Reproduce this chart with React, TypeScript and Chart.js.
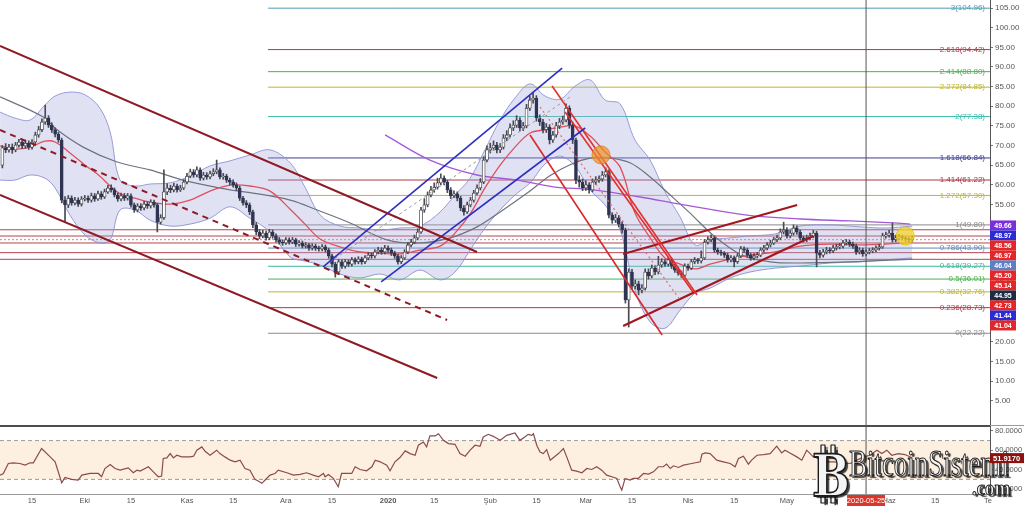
import React, { useEffect, useRef } from 'react';
import { Chart, registerables } from 'chart.js';
Chart.register(...registerables);

const FONT = "'Liberation Sans', Arial, sans-serif";

// ---- axes (days counted from 2019-09-01) ----
const X_MIN = 4.28;
const X_MAX = 304.6;
const PRICE_MIN = -1.13;
const PRICE_MAX = 107.04;
const RSI_MIN = 14.9;
const RSI_MAX = 86.1;

const yTicks = [5, 10, 15, 20, 25, 30, 35, 40, 45, 50, 55, 60, 65, 70, 75, 80, 85, 90, 95, 100, 105];
const rsiTicks = [20, 40, 60, 80];
const xTickDays = [14, 30, 44, 61, 75, 91, 105, 122, 136, 153, 167, 182, 196, 213, 227, 243, 257, 274, 288, 304];
const xTickLabels = ['15', 'Eki', '15', 'Kas', '15', 'Ara', '15', '2020', '15', 'Şub', '15', 'Mar', '15', 'Nis', '15', 'May', '15', 'Haz', '15', 'Te'];

// ---- daily candles ----
const firstDay = 5;
const firstOpen = 65.0;
const closes = [
  69.4, 68.9, 69.6, 68.9, 70.1, 70.9, 69.9, 70.6, 69.6, 70.9,
  72.7, 74.0, 76.0, 77.0, 75.2, 74.0, 72.9, 71.4, 56.1, 54.9,
  56.6, 55.4, 56.1, 55.1, 56.4, 56.6, 56.1, 57.2, 56.4, 57.7,
  56.9, 58.2, 59.2, 58.7, 57.4, 56.4, 57.2, 56.6, 57.2, 54.9,
  53.6, 54.6, 54.1, 55.1, 54.6, 55.6, 54.9, 50.5, 51.6, 58.2,
  59.2, 58.7, 59.7, 58.7, 59.2, 60.7, 62.2, 63.3, 62.5, 63.8,
  61.7, 62.5, 62.0, 62.8, 63.3, 63.8, 62.0, 62.2, 61.2, 60.7,
  60.0, 59.2, 56.6, 55.4, 54.9, 53.1, 49.8, 48.0, 47.0, 47.7,
  46.5, 48.0, 47.0, 46.0, 45.4, 45.2, 46.0, 45.4, 46.0, 44.9,
  45.2, 44.4, 44.7, 43.9, 44.4, 43.9, 43.7, 44.2, 43.4, 41.9,
  39.8, 37.8, 40.4, 39.3, 40.4, 39.8, 40.9, 40.4, 41.1, 40.4,
  41.4, 42.1, 41.9, 42.9, 43.4, 42.9, 43.9, 43.4, 42.6, 41.9,
  40.4, 41.4, 42.9, 44.7, 45.4, 46.5, 48.0, 53.6, 54.9, 57.4,
  58.7, 59.4, 60.5, 61.7, 60.7, 58.7, 57.2, 57.7, 56.6, 54.1,
  53.1, 54.9, 56.1, 57.9, 59.2, 60.7, 66.3, 68.9, 69.4, 70.1,
  68.9, 69.6, 71.9, 72.7, 74.5, 75.2, 76.5, 74.5, 75.0, 79.5,
  81.6, 82.1, 77.0, 76.0, 74.0, 74.7, 71.4, 72.7, 75.0, 76.0,
  76.5, 79.5, 75.2, 71.4, 61.2, 60.7, 59.2, 60.0, 58.7, 60.7,
  61.2, 61.5, 62.5, 63.3, 52.3, 51.0, 51.6, 50.0, 48.5, 30.7,
  37.8, 34.2, 34.8, 33.2, 33.7, 37.8, 36.8, 38.8, 37.8, 39.6,
  40.4, 39.8, 40.9, 39.3, 38.3, 37.6, 37.0, 39.3, 38.8, 40.4,
  40.9, 40.6, 41.4, 45.4, 46.0, 46.5, 43.4, 42.9, 42.6, 42.1,
  40.9, 41.4, 40.4, 41.9, 43.7, 43.4, 42.1, 41.4, 41.9, 42.1,
  43.4, 43.9, 44.7, 45.2, 46.0, 46.5, 48.0, 48.5, 47.0, 47.7,
  49.0, 48.0, 46.5, 46.0, 46.5, 47.0, 47.7, 42.6, 42.1, 42.9,
  43.4, 43.2, 43.9, 44.2, 44.4, 45.2, 45.4, 44.9, 44.4, 42.9,
  43.4, 42.4, 42.9, 43.2, 43.4, 43.9, 44.2, 47.0, 47.2, 47.7,
  46.0, 46.5, 46.7, 46.5, 46.2, 46.0, 46.5,
];
const highs = [
  70.0, 70.5, 70.3, 70.4, 70.8, 71.6, 71.5, 71.4, 71.2, 71.5,
  73.4, 74.9, 76.8, 80.3, 77.6, 75.8, 74.5, 73.4, 71.9, 57.0,
  57.3, 57.2, 56.8, 56.7, 57.0, 57.3, 57.2, 57.9, 57.8, 58.4,
  58.3, 58.9, 59.9, 60.0, 59.2, 57.9, 57.9, 57.8, 57.8, 57.7,
  55.4, 55.2, 55.2, 55.8, 55.7, 56.2, 56.1, 55.3, 52.4, 63.8,
  60.3, 59.9, 60.4, 60.2, 59.9, 61.3, 62.9, 64.0, 63.9, 64.6,
  64.3, 63.2, 63.1, 63.5, 64.1, 66.3, 64.3, 62.9, 62.7, 61.7,
  61.3, 60.5, 59.7, 57.1, 56.0, 55.4, 53.6, 50.4, 48.6, 48.4,
  48.2, 48.7, 48.5, 47.5, 46.6, 46.0, 46.6, 46.5, 46.6, 46.4,
  45.8, 45.7, 45.3, 45.1, 45.0, 44.9, 44.4, 44.8, 44.7, 43.9,
  42.4, 40.3, 41.0, 40.9, 41.0, 40.9, 41.5, 41.4, 41.7, 41.6,
  42.0, 42.8, 42.7, 43.5, 44.1, 44.0, 44.6, 44.5, 43.9, 43.1,
  42.3, 42.0, 43.5, 45.3, 46.1, 47.2, 48.8, 54.3, 56.5, 58.2,
  59.6, 60.5, 61.7, 62.8, 62.3, 61.2, 59.3, 58.5, 58.2, 57.1,
  54.7, 55.6, 56.8, 58.6, 60.0, 61.6, 67.2, 69.9, 70.6, 71.2,
  70.8, 70.5, 72.8, 73.8, 75.5, 76.3, 77.6, 77.1, 75.9, 80.5,
  82.6, 83.4, 82.7, 77.8, 76.7, 75.6, 75.3, 73.6, 75.9, 76.9,
  77.5, 80.6, 80.1, 75.8, 71.9, 62.3, 61.5, 61.0, 60.6, 61.5,
  62.1, 62.3, 63.4, 64.3, 63.8, 52.9, 52.5, 52.2, 50.6, 49.0,
  38.6, 38.5, 35.8, 35.5, 34.6, 38.6, 38.6, 39.6, 39.4, 41.8,
  41.2, 41.0, 41.6, 41.4, 39.8, 38.9, 38.1, 39.9, 39.8, 41.0,
  41.5, 41.3, 43.2, 46.1, 46.8, 47.3, 47.0, 43.9, 43.4, 43.0,
  42.6, 42.0, 41.9, 42.5, 44.3, 44.2, 43.9, 42.6, 42.5, 42.8,
  44.0, 44.6, 45.3, 45.9, 46.6, 47.2, 48.8, 50.5, 49.1, 48.4,
  49.8, 49.6, 48.5, 47.0, 47.2, 47.7, 48.4, 48.2, 43.3, 43.6,
  44.1, 44.0, 44.6, 44.9, 45.1, 45.9, 46.1, 45.9, 45.4, 44.9,
  44.0, 43.9, 43.5, 43.8, 44.0, 44.5, 44.9, 47.7, 48.0, 48.4,
  50.3, 47.2, 47.4, 47.2, 46.9, 46.7, 47.1,
];
const lows = [
  64.3, 68.2, 68.3, 68.0, 68.4, 69.6, 69.2, 69.3, 69.0, 69.1,
  70.5, 72.1, 73.5, 75.4, 74.6, 73.3, 72.2, 70.8, 55.4, 50.5,
  54.2, 54.8, 54.9, 54.5, 54.6, 55.9, 55.5, 55.6, 55.8, 56.0,
  56.3, 56.5, 57.8, 58.1, 56.9, 55.8, 55.9, 56.0, 56.1, 54.3,
  53.0, 53.1, 53.5, 53.6, 54.0, 54.1, 54.3, 48.0, 50.0, 51.2,
  57.5, 58.0, 58.2, 58.1, 58.3, 58.8, 60.2, 61.8, 61.9, 62.0,
  61.1, 61.2, 61.4, 61.5, 62.3, 62.8, 61.5, 61.4, 60.6, 60.0,
  59.4, 58.6, 56.0, 54.8, 54.2, 52.4, 49.1, 47.3, 46.3, 46.5,
  45.9, 46.0, 46.4, 45.4, 44.9, 44.6, 44.8, 44.9, 45.0, 44.3,
  44.4, 43.9, 43.9, 43.3, 43.4, 43.3, 43.1, 43.2, 42.9, 41.3,
  39.1, 36.5, 37.3, 38.7, 38.8, 39.2, 39.3, 39.8, 39.9, 39.8,
  39.9, 40.9, 41.3, 41.4, 42.4, 42.3, 42.4, 42.8, 42.0, 41.3,
  39.8, 39.9, 41.0, 42.5, 44.2, 45.0, 46.0, 47.6, 53.0, 54.4,
  56.9, 58.1, 58.9, 60.0, 60.0, 58.0, 56.5, 56.7, 55.9, 53.4,
  52.3, 52.7, 54.4, 55.6, 57.4, 58.7, 60.3, 65.8, 68.1, 68.8,
  68.1, 68.2, 69.1, 71.2, 72.1, 73.8, 74.6, 73.7, 73.8, 74.5,
  78.9, 80.8, 76.2, 75.1, 73.2, 73.3, 70.4, 70.8, 72.1, 74.3,
  75.4, 76.0, 74.4, 70.5, 60.3, 59.4, 58.5, 58.6, 57.9, 58.2,
  60.1, 60.6, 60.9, 62.0, 51.6, 50.2, 50.4, 49.3, 47.7, 29.9,
  23.8, 33.3, 33.5, 32.0, 32.5, 33.2, 36.0, 36.3, 37.1, 37.3,
  39.0, 39.2, 39.3, 38.7, 37.7, 37.0, 36.4, 36.6, 38.2, 38.4,
  39.9, 40.0, 40.1, 41.0, 44.9, 45.5, 42.8, 42.3, 42.0, 41.5,
  40.3, 40.4, 39.1, 40.0, 41.5, 42.8, 41.6, 40.8, 40.9, 41.4,
  41.7, 42.9, 43.4, 44.2, 44.8, 45.5, 46.0, 47.5, 46.4, 46.5,
  47.2, 47.4, 45.9, 45.4, 45.5, 46.0, 46.5, 39.1, 41.4, 41.6,
  42.4, 42.6, 42.7, 43.4, 43.7, 43.9, 44.7, 44.3, 43.8, 42.3,
  42.4, 41.8, 41.9, 42.4, 42.7, 42.9, 43.4, 43.8, 46.4, 46.7,
  45.4, 45.5, 46.0, 45.9, 45.6, 45.4, 45.5,
];

// ---- Bollinger band ----
const bandDays = [
  4.3, 8.8, 13.4, 17.9, 21.0, 25.5, 30.1, 34.6, 37.7, 40.7,
  45.2, 49.8, 55.9, 61.9, 68.0, 74.1, 80.1, 86.2, 92.3, 96.8,
  101.4, 107.4, 113.5, 119.6, 125.6, 131.7, 137.8, 142.3, 146.9, 151.4,
  156.0, 160.5, 165.1, 169.6, 174.2, 178.7, 183.3, 187.8, 192.4, 196.9,
  201.5, 206.0, 210.6, 215.1, 219.7, 225.8, 231.8, 239.4, 247.0, 256.1,
  265.2, 272.8, 281.0,
];
const bbUpper = [
  78.5, 77.0, 76.5, 80.3, 82.6, 83.6, 82.9, 79.5, 73.4, 61.2,
  59.7, 60.2, 60.5, 62.2, 64.8, 66.1, 67.6, 68.9, 65.6, 59.4,
  52.3, 49.5, 49.0, 48.5, 49.0, 49.5, 53.1, 57.4, 61.7, 68.9,
  76.5, 82.1, 85.7, 82.6, 81.8, 85.1, 86.7, 81.6, 80.6, 71.4,
  66.3, 58.2, 51.8, 44.7, 46.0, 46.5, 47.0, 47.5, 49.5, 49.8,
  49.3, 49.0, 49.5,
];
const bbLower = [
  61.2, 61.2, 62.5, 61.7, 59.2, 52.3, 47.2, 45.2, 46.0, 53.6,
  53.6, 51.0, 49.5, 50.0, 51.5, 54.4, 51.5, 48.0, 41.6, 40.6,
  39.6, 37.3, 36.3, 37.3, 35.8, 38.3, 35.8, 37.8, 43.4, 49.0,
  53.6, 57.4, 60.5, 65.3, 67.3, 64.8, 58.7, 54.9, 48.5, 33.2,
  25.1, 23.5, 28.1, 32.4, 33.7, 36.3, 37.8, 38.8, 39.3, 40.1,
  40.4, 40.9, 41.4,
];
const bbMid = [
  69.9, 69.1, 69.6, 71.1, 70.9, 68.1, 65.0, 62.2, 59.7, 57.7,
  56.6, 55.6, 55.1, 56.1, 58.4, 59.9, 59.7, 58.4, 53.8, 50.0,
  46.2, 44.2, 42.9, 42.6, 42.4, 43.4, 44.4, 47.7, 52.6, 59.2,
  65.0, 69.6, 73.2, 74.0, 74.7, 75.0, 72.4, 68.4, 64.5, 52.8,
  46.5, 41.4, 39.8, 38.6, 39.8, 41.1, 42.1, 42.9, 44.4, 44.9,
  44.7, 44.9, 45.4,
];

// ---- moving averages ----
const maGrayDays = [4.3, 17.3, 21.6, 29.5, 39.8, 49.8, 59.8, 74.1, 81.0, 92.3, 100.5, 110.5, 121.7, 131.7, 140.8, 149.0, 156.0, 164.2, 171.1, 177.2, 183.3, 189.4, 195.4, 201.5, 207.6, 213.6, 220.6, 229.4, 237.9, 247.0, 262.2, 281.0];
const maGray = [82.4, 77.3, 74.0, 69.6, 65.8, 63.8, 61.2, 58.7, 57.9, 56.1, 53.6, 50.3, 46.0, 45.2, 46.5, 49.3, 53.1, 57.9, 62.3, 65.1, 66.8, 66.8, 65.6, 62.0, 57.4, 52.8, 47.2, 42.1, 40.4, 40.1, 40.4, 41.1];
const maPurpleDays = [121.1, 134.7, 149.0, 161.1, 172.1, 184.2, 198.5, 210.6, 230.9, 247.0, 262.2, 275.2, 280.4];
const maPurple = [72.7, 66.3, 62.5, 61.2, 59.5, 58.7, 56.9, 55.1, 52.3, 51.3, 50.8, 50.3, 50.0];

// ---- Fibonacci levels ----
const fibStartDay = 85.6;
const fibRatios = ['3', '2.618', '2.414', '2.272', '2', '1.618', '1.414', '1.272', '1', '0.786', '0.618', '0.5', '0.382', '0.236', '0'];
const fibPrices = [104.96, 94.42, 88.80, 84.85, 77.38, 66.84, 61.22, 57.30, 49.80, 43.90, 39.27, 36.01, 32.76, 28.73, 22.22];
const fibColors = ['#4f9db4', '#ad3845', '#4caf50', '#bdb531', '#3dbdac', '#3c3c92', '#ad3845', '#bdb531', '#8a8a8a', '#5a8cb8', '#3cb89c', '#4caf50', '#bdb531', '#ad3845', '#8a8a8a'];

// ---- horizontal support / resistance ----
const srPrices = [48.56, 46.97, 45.20, 42.73, 41.04];
const srDottedPrice = 46.04;

// ---- right-axis price tags ----
const priceTags = [49.66, 48.97, 48.56, 46.97, 46.04, 45.20, 45.14, 44.95, 42.73, 41.44, 41.04];
const priceTagColors = ['#7a2fdc', '#2b2bd6', '#e52629', '#e52629', '#5b80c6', '#e52629', '#e52629', '#1d2b45', '#e52629', '#2b2bd6', '#e52629'];

// ---- trend lines [day, price] ----
const channelUpper = [[4.28, 95.33], [149.0, 42.91]];
const channelLower = [[4.28, 57.41], [136.9, 10.84]];
const channelMid = [[4.28, 73.95], [139.9, 25.6]];
const blueUpper = [[102.3, 39.09], [174.8, 89.73]];
const blueLower = [[119.9, 35.27], [181.8, 74.46]];
const blueMid = [[104.4, 40.36], [177.2, 82.35]];
const redLine1 = [[171.75, 85.15], [215.74, 31.96]];
const redLine2 = [[175.7, 78.54], [214.5, 32.73]];
const redLine3 = [[165.07, 72.68], [205.13, 21.78]];
const redDotted = [[168.1, 79.81], [210.6, 30.69]];
const wedgeUpper = [[193.3, 42.4], [246.1, 54.87]];
const wedgeLower = [[193.3, 24.07], [250.95, 46.98]];
const orangeMark = [186.6, 67.6];
const yellowMark = [278.9, 46.98];
const vlineDay = 267;
const vlineLabel = '2020-05-25';

// ---- RSI ----
const rsiDays = [4.3, 5.3, 6.8, 8.3, 10.3, 11.9, 13.4, 14.4, 16.9, 19.5, 21.0, 23.0, 24.0, 26.0, 28.0, 29.1, 31.6, 34.1, 35.1, 36.1, 37.7, 39.2, 40.7, 43.2, 44.7, 45.8, 46.8, 49.3, 50.8, 52.3, 53.3, 53.8, 54.9, 55.9, 56.9, 57.9, 59.4, 61.9, 63.0, 64.0, 65.5, 66.5, 68.0, 70.0, 71.0, 72.5, 74.1, 75.6, 77.1, 78.6, 80.1, 81.6, 82.6, 83.7, 84.7, 86.2, 87.7, 88.7, 91.3, 93.3, 95.3, 97.3, 99.3, 100.9, 102.4, 102.9, 103.9, 105.4, 106.9, 107.9, 109.5, 111.0, 112.0, 113.5, 115.5, 117.1, 118.1, 119.6, 121.6, 122.6, 124.1, 125.6, 127.2, 128.7, 130.2, 131.2, 132.7, 133.7, 134.7, 136.3, 137.3, 138.8, 140.3, 142.3, 143.8, 145.4, 146.9, 148.4, 149.9, 150.9, 152.4, 153.9, 156.0, 158.0, 160.5, 162.0, 163.5, 164.5, 165.6, 166.1, 167.1, 168.1, 169.1, 170.1, 171.2, 172.2, 173.7, 175.2, 176.2, 177.7, 179.2, 180.8, 182.3, 183.8, 185.3, 186.8, 188.3, 189.9, 191.4, 192.4, 192.9, 193.9, 195.4, 196.4, 197.9, 199.5, 201.0, 202.5, 204.0, 205.5, 206.5, 207.6, 208.6, 210.1, 211.6, 214.1, 216.7, 217.2, 218.2, 219.7, 221.7, 223.7, 225.8, 227.3, 228.3, 229.8, 231.3, 232.3, 233.9, 235.9, 237.9, 239.9, 241.4, 242.4, 243.9, 246.0, 247.5, 249.0, 251.0, 253.1, 255.1, 257.1, 262.2, 266.2, 268.2, 270.3, 271.8, 273.3, 274.8, 276.8, 278.8, 280.8];
const rsiVals = [34.4, 36.1, 46.4, 47.1, 46.4, 44.7, 47.1, 47.1, 61.8, 53.2, 48.1, 26.5, 32.0, 30.0, 29.3, 34.4, 36.1, 36.1, 32.7, 41.2, 45.3, 41.2, 39.5, 41.9, 36.8, 39.5, 38.5, 43.0, 37.8, 32.7, 33.4, 51.5, 52.2, 56.6, 52.2, 54.9, 53.2, 53.2, 53.9, 60.1, 63.5, 59.0, 54.9, 60.1, 56.6, 53.2, 49.8, 48.1, 49.8, 41.2, 39.5, 30.0, 28.3, 25.9, 29.3, 34.4, 36.1, 39.5, 36.8, 34.4, 35.1, 36.8, 34.4, 32.7, 36.1, 32.7, 35.1, 31.0, 22.4, 36.1, 36.1, 36.1, 43.0, 40.2, 38.8, 43.0, 49.8, 48.1, 44.7, 38.8, 48.1, 52.5, 59.4, 56.6, 54.9, 65.2, 68.6, 63.5, 74.8, 74.8, 77.1, 70.3, 66.9, 66.2, 56.6, 53.9, 60.1, 65.2, 64.2, 73.7, 76.5, 74.4, 70.3, 75.4, 77.8, 70.3, 73.7, 76.5, 75.4, 77.1, 65.2, 58.3, 56.6, 60.7, 49.8, 52.5, 56.6, 61.8, 53.2, 39.5, 38.5, 36.8, 41.2, 40.2, 43.0, 39.5, 34.4, 32.7, 31.0, 22.4, 19.0, 31.0, 29.3, 31.0, 31.0, 36.1, 35.4, 37.8, 43.0, 43.0, 45.7, 41.2, 44.0, 42.3, 44.7, 46.4, 48.1, 55.9, 57.3, 56.6, 49.8, 48.1, 46.4, 43.0, 51.5, 53.9, 45.7, 49.8, 54.9, 55.6, 56.6, 64.2, 57.3, 60.1, 57.3, 53.2, 49.8, 60.1, 53.2, 54.9, 48.1, 48.1, 46.4, 53.2, 54.9, 60.1, 56.6, 60.1, 54.9, 56.6, 55.6, 52.5];
const rsiUpper = 70;
const rsiLowerLevel = 30;
const rsiLast = 51.917;

// ---------------------------------------------------------------
const pts = (arr: number[][]) => arr.map(([x, y]) => ({ x, y }));
const seg = (arr: number[][], color: string, width: number, dash: number[], order: number) => ({
  type: 'line', data: pts(arr), borderColor: color, borderWidth: width, borderDash: dash,
  pointRadius: 0, fill: false, tension: 0, order,
});
const curve = (days: number[], vals: number[], color: string, width: number, order: number, extra: any = {}) => ({
  type: 'line', data: days.map((d, i) => ({ x: d, y: vals[i] })), borderColor: color, borderWidth: width,
  pointRadius: 0, tension: 0.35, fill: false, order, ...extra,
});

function mainDatasets() {
  const ds: any[] = [];
  fibPrices.forEach((p, i) => ds.push(seg([[fibStartDay, p], [X_MAX, p]], fibColors[i], 1, [], 300)));
  srPrices.forEach((p) => ds.push(seg([[X_MIN, p], [X_MAX, p]], '#b9424f', 1, [], 290)));
  ds.push(seg([[X_MIN, srDottedPrice], [X_MAX, srDottedPrice]], '#9c9c9c', 1, [2, 2], 290));
  ds.push(curve(bandDays, bbUpper, '#8a8fd2', 0.9, 200));
  ds.push(curve(bandDays, bbLower, '#8a8fd2', 0.9, 199, { fill: '-1', backgroundColor: 'rgba(160,166,222,0.32)' }));
  ds.push(curve(maGrayDays, maGray, '#6d737f', 1.2, 180));
  ds.push(curve(maPurpleDays, maPurple, '#a45ad6', 1.3, 175));
  ds.push(curve(bandDays, bbMid, '#e0505c', 1.3, 170));
  ds.push(seg([[vlineDay, PRICE_MIN], [vlineDay, PRICE_MAX]], '#555', 1, [], 100));

  const opens = closes.map((c, i) => (i === 0 ? firstOpen : closes[i - 1]));
  const up = closes.map((c, i) => c >= opens[i]);
  ds.push({
    type: 'bar', data: closes.map((c, i) => ({ x: firstDay + i, y: [lows[i], highs[i]] })),
    backgroundColor: '#4a4a52', barThickness: 1, grouped: false, order: 60,
  });
  ds.push({
    type: 'bar', data: closes.map((c, i) => ({ x: firstDay + i, y: [opens[i], c] })),
    backgroundColor: up.map((u) => (u ? '#ffffff' : '#2f3452')),
    borderColor: up.map((u) => (u ? '#3a3a40' : '#2f3452')),
    borderWidth: 0.8, borderSkipped: false, barThickness: 3, minBarLength: 1, grouped: false, order: 50,
  });

  ds.push(seg(channelUpper, '#8e1b24', 2, [], 20));
  ds.push(seg(channelLower, '#8e1b24', 2, [], 20));
  ds.push(seg(channelMid, '#8e1b24', 2, [6, 5], 20));
  ds.push(seg(blueUpper, '#2e2ec2', 1.6, [], 20));
  ds.push(seg(blueLower, '#2e2ec2', 1.6, [], 20));
  ds.push(seg(blueMid, '#9a9a9a', 1, [3, 3], 20));
  ds.push(seg(redLine1, '#e2302f', 1.6, [], 20));
  ds.push(seg(redLine2, '#e2302f', 1.6, [], 20));
  ds.push(seg(redLine3, '#d9282b', 1.6, [], 20));
  ds.push(seg(redDotted, '#e26a6a', 1.2, [2, 3], 20));
  ds.push(seg(wedgeUpper, '#a3161f', 2, [], 20));
  ds.push(seg(wedgeLower, '#a3161f', 2, [], 20));
  ds.push({
    type: 'line', data: [{ x: orangeMark[0], y: orangeMark[1] }], showLine: false,
    pointRadius: 9, pointBackgroundColor: 'rgba(238,146,40,0.7)', pointBorderColor: 'rgba(220,130,30,0.8)', pointBorderWidth: 1, order: 5,
  });
  ds.push({
    type: 'line', data: [{ x: yellowMark[0], y: yellowMark[1] }], showLine: false,
    pointRadius: 9, pointBackgroundColor: 'rgba(250,215,30,0.72)', pointBorderColor: 'rgba(225,190,20,0.9)', pointBorderWidth: 1, order: 5,
  });
  return ds;
}

const mainOverlay = {
  id: 'mainOverlay',
  afterDraw(chart: any) {
    const { ctx, chartArea: a, scales } = chart;
    const y = scales.y;
    ctx.save();
    ctx.font = `8px ${FONT}`;
    ctx.textAlign = 'right';
    ctx.textBaseline = 'middle';
    fibPrices.forEach((p, i) => {
      ctx.fillStyle = fibColors[i];
      ctx.fillText(`${fibRatios[i]}(${p.toFixed(2)})`, a.right - 5, y.getPixelForValue(p));
    });
    let prev = -Infinity;
    ctx.font = `bold 7px ${FONT}`;
    ctx.textAlign = 'center';
    priceTags.forEach((v, i) => {
      const py = Math.max(y.getPixelForValue(v), prev + 10);
      prev = py;
      ctx.fillStyle = priceTagColors[i];
      ctx.fillRect(a.right, py - 5, 26, 10);
      ctx.fillStyle = '#ffffff';
      ctx.fillText(v.toFixed(2), a.right + 13, py + 0.5);
    });
    ctx.restore();
  },
};

function drawWatermark(ctx: CanvasRenderingContext2D) {
  ctx.save();
  ctx.lineJoin = 'round';
  ctx.textBaseline = 'alphabetic';
  const shadowOn = () => {
    ctx.shadowColor = 'rgba(0,0,0,0.75)';
    ctx.shadowOffsetX = 2.5;
    ctx.shadowOffsetY = 2;
    ctx.shadowBlur = 1;
  };
  const shadowOff = () => { ctx.shadowColor = 'transparent'; };
  ctx.fillStyle = '#f4f4f4';
  ctx.strokeStyle = '#1c1c1c';
  ctx.lineWidth = 1.2;
  [[821, 20], [831, 20], [821, 69], [831, 69]].forEach(([bx, by]) => {
    shadowOn(); ctx.fillRect(bx, by, 4, 9); shadowOff(); ctx.strokeRect(bx, by, 4, 9);
  });
  ctx.font = `bold 58px 'DejaVu Serif', serif`;
  const bw = ctx.measureText('B').width;
  ctx.save();
  ctx.translate(812, 71);
  ctx.scale(38 / bw, 1);
  shadowOn(); ctx.fillText('B', 0, 0); shadowOff();
  ctx.lineWidth = 1.8; ctx.strokeText('B', 0, 0);
  ctx.restore();
  ctx.font = `38px 'Liberation Serif', serif`;
  const tw = ctx.measureText('BitcoinSistemi').width;
  ctx.save();
  ctx.translate(849, 51);
  ctx.scale(160 / tw, 1);
  shadowOn(); ctx.fillText('BitcoinSistemi', 0, 0); shadowOff();
  ctx.lineWidth = 1.1; ctx.strokeText('BitcoinSistemi', 0, 0);
  ctx.restore();
  ctx.font = `bold 21px 'Liberation Serif', serif`;
  const cw = ctx.measureText('.com').width;
  ctx.save();
  ctx.translate(972, 70);
  ctx.scale(38 / cw, 1);
  shadowOn(); ctx.fillText('.com', 0, 0); shadowOff();
  ctx.lineWidth = 1; ctx.strokeText('.com', 0, 0);
  ctx.restore();
  ctx.restore();
}

const rsiOverlay = {
  id: 'rsiOverlay',
  afterDraw(chart: any) {
    const { ctx, chartArea: a, scales } = chart;
    drawWatermark(ctx);
    ctx.save();
    ctx.fillStyle = '#4d4d4d';
    ctx.fillRect(0, 0, a.right, 2);
    ctx.fillStyle = '#9a9a9a';
    ctx.fillRect(a.right, 0, 1024 - a.right, 1);
    const vy = scales.y.getPixelForValue(rsiLast);
    ctx.fillStyle = '#8c1212';
    ctx.fillRect(a.right, vy - 5, 1024 - a.right, 10);
    ctx.fillStyle = '#fff';
    ctx.font = `bold 7.5px ${FONT}`;
    ctx.textAlign = 'left';
    ctx.textBaseline = 'middle';
    ctx.fillText(rsiLast.toFixed(4), a.right + 3, vy + 0.5);
    const vx = scales.x.getPixelForValue(vlineDay);
    ctx.fillStyle = '#d8382c';
    ctx.fillRect(vx - 19, a.bottom + 1, 38, 11);
    ctx.fillStyle = '#fff';
    ctx.font = `7.5px ${FONT}`;
    ctx.textAlign = 'center';
    ctx.fillText(vlineLabel, vx, a.bottom + 6.5);
    ctx.restore();
  },
};

export default function App() {
  const mainRef = useRef<HTMLCanvasElement>(null);
  const rsiRef = useRef<HTMLCanvasElement>(null);

  useEffect(() => {
    document.body.style.margin = '0';
    const tickFont = { size: 8, family: FONT };
    const main = new Chart(mainRef.current as HTMLCanvasElement, {
      type: 'bar',
      data: { datasets: mainDatasets() },
      options: {
        responsive: false,
        maintainAspectRatio: false,
        devicePixelRatio: 1,
        animation: false,
        events: [],
        layout: { padding: 0, autoPadding: false },
        plugins: { legend: { display: false }, tooltip: { enabled: false } },
        scales: {
          x: { type: 'linear', min: X_MIN, max: X_MAX, display: false, offset: false },
          y: {
            type: 'linear', position: 'right', min: PRICE_MIN, max: PRICE_MAX,
            afterBuildTicks: (s: any) => { s.ticks = yTicks.map((v) => ({ value: v })); },
            afterFit: (s: any) => { s.width = 34; s.paddingTop = 0; s.paddingBottom = 0; },
            ticks: { callback: (v: any) => Number(v).toFixed(2), font: tickFont, color: '#555', padding: 2, autoSkip: false },
            grid: { drawOnChartArea: false, drawTicks: true, tickLength: 3, color: '#777' },
            border: { display: true, color: '#555' },
          },
        },
      } as any,
      plugins: [mainOverlay],
    } as any);

    const rsi = new Chart(rsiRef.current as HTMLCanvasElement, {
      type: 'line',
      data: {
        datasets: [
          seg([[X_MIN, rsiUpper], [X_MAX, rsiUpper]], '#9a9a9a', 1, [4, 3], 50),
          { ...seg([[X_MIN, rsiLowerLevel], [X_MAX, rsiLowerLevel]], '#9a9a9a', 1, [4, 3], 50), fill: '-1', backgroundColor: '#fdf0e1' },
          seg([[vlineDay, RSI_MIN], [vlineDay, RSI_MAX]], '#555', 1, [], 40),
          { type: 'line', data: rsiDays.map((d, i) => ({ x: d, y: rsiVals[i] })), borderColor: '#8c4b4b', borderWidth: 1.2, pointRadius: 0, tension: 0, fill: false, order: 10 },
        ],
      },
      options: {
        responsive: false,
        maintainAspectRatio: false,
        devicePixelRatio: 1,
        animation: false,
        events: [],
        layout: { padding: 0, autoPadding: false },
        plugins: { legend: { display: false }, tooltip: { enabled: false } },
        scales: {
          x: {
            type: 'linear', min: X_MIN, max: X_MAX, offset: false,
            afterBuildTicks: (s: any) => { s.ticks = xTickDays.map((v) => ({ value: v })); },
            afterFit: (s: any) => { s.height = 12; s.paddingLeft = 0; s.paddingRight = 0; },
            ticks: {
              autoSkip: false, maxRotation: 0, padding: 2, color: '#555',
              font: (c: any) => ({ size: 7.5, family: FONT, weight: c.tick && c.tick.value === 122 ? 'bold' : 'normal' }),
              callback: (v: any) => { const i = xTickDays.indexOf(Number(v)); return i >= 0 ? xTickLabels[i] : ''; },
            },
            grid: { display: false, drawTicks: false, tickLength: 0 },
            border: { display: true, color: '#999' },
          },
          y: {
            type: 'linear', position: 'right', min: RSI_MIN, max: RSI_MAX,
            afterBuildTicks: (s: any) => { s.ticks = rsiTicks.map((v) => ({ value: v })); },
            afterFit: (s: any) => { s.width = 34; s.paddingTop = 0; s.paddingBottom = 0; },
            ticks: { callback: (v: any) => Number(v).toFixed(4), font: { size: 7.5, family: FONT }, color: '#555', padding: 2, autoSkip: false },
            grid: { drawOnChartArea: false, drawTicks: true, tickLength: 3, color: '#777' },
            border: { display: true, color: '#555' },
          },
        },
      } as any,
      plugins: [rsiOverlay],
    } as any);

    return () => { main.destroy(); rsi.destroy(); };
  }, []);

  return (
    <div style={{ position: 'absolute', left: 0, top: 0, width: 1024, height: 506, background: '#fff' }}>
      <canvas ref={mainRef} width={1024} height={425} style={{ display: 'block', width: 1024, height: 425 }} />
      <canvas ref={rsiRef} width={1024} height={81} style={{ display: 'block', width: 1024, height: 81 }} />
    </div>
  );
}
